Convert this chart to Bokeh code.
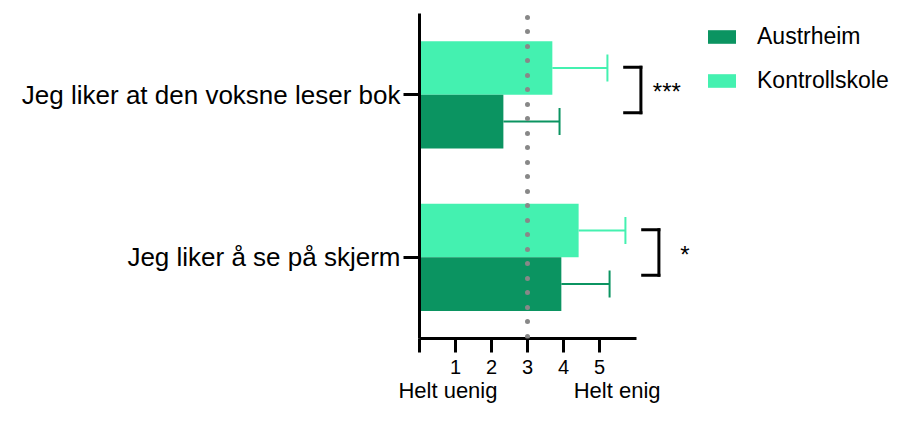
from bokeh.plotting import figure
from bokeh.models import (FactorRange, Range1d, LinearAxis, FixedTicker, Span,
                          Legend, LegendItem, ColumnDataSource)
from bokeh.transform import dodge
from bokeh.core.properties import value
from bokeh.embed import file_html
from bokeh.resources import INLINE

# ---------------- data ----------------
categories = ["Jeg liker å se på skjerm", "Jeg liker at den voksne leser bok"]
austrheim_mean = [3.94, 2.33]
austrheim_upper = [5.28, 3.89]
kontroll_mean = [4.42, 3.69]
kontroll_upper = [5.72, 5.22]
significance = ["*", "***"]
series_names = ["Austrheim", "Kontrollskole"]
x_ticks = [0, 1, 2, 3, 4, 5]
x_tick_labels = ["", "1", "2", "3", "4", "5"]
scale_end_labels = ["Helt uenig", "Helt enig"]
scale_end_positions = [0.79, 5.49]
neutral_value = 3
axis_end = 6.03

# ---------------- style ----------------
DARK = "#0B9461"
LIGHT = "#44F1B0"
FONT = "Liberation Sans"
BAR_H = 0.33
OFF = 0.165
CAP = 0.083

bracket_x0 = [max(a, k) + 0.48 for a, k in zip(austrheim_upper, kontroll_upper)]
bracket_x1 = [b + 0.45 for b in bracket_x0]
star_x = [b + 0.72 for b in bracket_x1]

src = ColumnDataSource(dict(
    cat=categories,
    a_mean=austrheim_mean, a_up=austrheim_upper,
    k_mean=kontroll_mean, k_up=kontroll_upper,
    bx0=bracket_x0, bx1=bracket_x1, sx=star_x, sig=significance,
))

p = figure(width=895, height=405,
           y_range=FactorRange(*categories, range_padding=0),
           x_range=Range1d(0, 476 / 36),
           x_axis_type=None,
           output_backend="svg", toolbar_location=None,
           min_border_left=419, min_border_top=13, min_border_right=0,
           min_border_bottom=0)
p.grid.visible = False
p.outline_line_color = None
p.background_fill_color = "white"

yr = p.y_range
rk = p.hbar(y=dodge("cat", OFF, range=yr), left=0, right="k_mean", height=BAR_H,
            fill_color=LIGHT, line_color=None, source=src)
ra = p.hbar(y=dodge("cat", -OFF, range=yr), left=0, right="a_mean", height=BAR_H,
            fill_color=DARK, line_color=None, source=src)

# error bars (upper only)
for off, m, u, col in [(OFF, "k_mean", "k_up", LIGHT), (-OFF, "a_mean", "a_up", DARK)]:
    p.segment(x0=m, y0=dodge("cat", off, range=yr), x1=u, y1=dodge("cat", off, range=yr),
              line_color=col, line_width=2, source=src)
    p.segment(x0=u, y0=dodge("cat", off - CAP, range=yr), x1=u, y1=dodge("cat", off + CAP, range=yr),
              line_color=col, line_width=2, source=src)

# significance brackets
BT, BB = 0.17, -0.11
p.segment(x0="bx0", y0=dodge("cat", BT, range=yr), x1="bx1", y1=dodge("cat", BT, range=yr),
          line_color="black", line_width=3, line_cap="square", source=src)
p.segment(x0="bx1", y0=dodge("cat", BT, range=yr), x1="bx1", y1=dodge("cat", BB, range=yr),
          line_color="black", line_width=3, line_cap="square", source=src)
p.segment(x0="bx0", y0=dodge("cat", BB, range=yr), x1="bx1", y1=dodge("cat", BB, range=yr),
          line_color="black", line_width=3, line_cap="square", source=src)
p.text(x="sx", y=dodge("cat", 0.02, range=yr), text="sig", source=src,
       text_align="center", text_baseline="middle", text_color="black",
       text_font=value(FONT), text_font_size="24px")

# neutral dotted line
p.add_layout(Span(location=neutral_value, dimension="height", line_color="#888888",
                  line_width=5, line_dash="0 14 0 15", line_dash_offset=25,
                  line_cap="round"))

# y axis
ya = p.yaxis[0]
ya.axis_line_width = 3
ya.axis_line_color = "black"
ya.major_tick_line_width = 3
ya.major_tick_line_color = "black"
ya.major_tick_in = 0
ya.major_tick_out = 16
ya.major_label_standoff = 3
ya.major_label_text_font = FONT
ya.major_label_text_font_size = "26px"
ya.major_label_text_color = "black"

# x axis
xa = LinearAxis(ticker=FixedTicker(ticks=x_ticks),
                major_label_overrides={t: l for t, l in zip(x_ticks, x_tick_labels)},
                bounds=(0, axis_end),
                axis_line_width=3, axis_line_color="black",
                major_tick_line_width=3, major_tick_line_color="black",
                major_tick_in=0, major_tick_out=14,
                minor_tick_line_color=None,
                major_label_standoff=7,
                major_label_text_font=FONT, major_label_text_font_size="20px",
                major_label_text_color="black")
p.add_layout(xa, "below")

xa2 = LinearAxis(ticker=FixedTicker(ticks=scale_end_positions),
                 major_label_overrides={t: l for t, l in zip(scale_end_positions, scale_end_labels)},
                 axis_line_color=None, major_tick_line_color=None, minor_tick_line_color=None,
                 major_tick_in=0, major_tick_out=0,
                 major_label_standoff=1,
                 major_label_text_font=FONT, major_label_text_font_size="22px",
                 major_label_text_color="black")
p.add_layout(xa2, "below")

legend = Legend(items=[LegendItem(label=series_names[0], renderers=[ra]),
                       LegendItem(label=series_names[1], renderers=[rk])],
                location=(285, 244), glyph_width=35, glyph_height=17,
                label_standoff=18, spacing=17, padding=0, margin=0,
                border_line_color=None, background_fill_alpha=0,
                label_text_font=FONT, label_text_font_size="23px",
                label_text_color="black")
p.add_layout(legend)

open("out.html", "w").write(file_html(p, INLINE))
